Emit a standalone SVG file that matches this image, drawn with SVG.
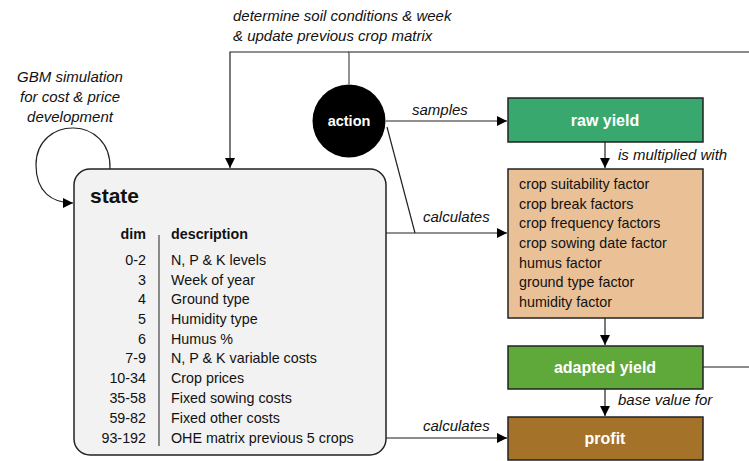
<svg xmlns="http://www.w3.org/2000/svg" width="749" height="461" viewBox="0 0 749 461">
<defs>
<marker id="ah" viewBox="0 0 10 10" refX="10" refY="5" markerWidth="10" markerHeight="10" markerUnits="userSpaceOnUse" orient="auto">
<path d="M0,0 L10,5 L0,10 z" fill="#000"/>
</marker>
<style>
text{font-family:"Liberation Sans",Arial,sans-serif;fill:#111}
.it{font-style:italic;font-size:15px}
.body{font-size:14.3px}
.wb{font-weight:bold;font-size:16px;fill:#fff;text-anchor:middle}
.ln{fill:none;stroke:#222;stroke-width:1.2}
.gl{fill:none;stroke:#666;stroke-width:1.4}
.bx{stroke:#222;stroke-width:1.5}
</style>
</defs>
<rect width="749" height="461" fill="#fff"/>
<g id="connectors">
<polyline class="gl" points="349,84 349,52 749,52"/>
<polyline class="ln" points="349,52 230,52 230,168" marker-end="url(#ah)"/>
<path class="ln" d="M110,169 C112,115 36,115 36,165 C36,192 52,203 73,203" marker-end="url(#ah)"/>
<line class="ln" x1="386" y1="121" x2="507" y2="121" marker-end="url(#ah)"/>
<line class="ln" x1="387" y1="127" x2="415" y2="233"/>
<line class="ln" x1="386" y1="233" x2="507" y2="233" marker-end="url(#ah)"/>
<line class="ln" x1="605" y1="142" x2="605" y2="168" marker-end="url(#ah)"/>
<line class="ln" x1="605" y1="318" x2="605" y2="345" marker-end="url(#ah)"/>
<line class="ln" x1="605" y1="389" x2="605" y2="416" marker-end="url(#ah)"/>
<line class="gl" x1="703" y1="367" x2="749" y2="367"/>
<line class="gl" x1="386" y1="438" x2="498" y2="438"/>
<line class="ln" x1="497" y1="438" x2="507" y2="438" marker-end="url(#ah)"/>
<text class="it" x="233" y="21">determine soil conditions &amp; week</text>
<text class="it" x="233" y="41">&amp; update previous crop matrix</text>
<text class="it" x="70" y="82" text-anchor="middle">GBM simulation</text>
<text class="it" x="70" y="102" text-anchor="middle">for cost &amp; price</text>
<text class="it" x="70" y="122" text-anchor="middle">development</text>
<text class="it" x="412" y="115">samples</text>
<text class="it" x="423" y="222">calculates</text>
<text class="it" x="423" y="431">calculates</text>
<text class="it" x="618" y="160">is multiplied with</text>
<text class="it" x="618" y="405">base value for</text>
</g>
<g id="state">
<rect x="74" y="169" width="312" height="286" rx="16" fill="#f2f2f2" stroke="#222" stroke-width="1.5"/>
<text x="90" y="203" style="font-weight:bold;font-size:21px">state</text>
<line x1="159" y1="235" x2="159" y2="446" stroke="#444" stroke-width="1.2"/>
<text x="146" y="239" class="body" style="font-weight:bold" text-anchor="end">dim</text>
<text x="171" y="239" class="body" style="font-weight:bold">description</text>
<g class="body" text-anchor="end">
<text x="146" y="265" class="body">0-2</text>
<text x="146" y="285" class="body">3</text>
<text x="146" y="304" class="body">4</text>
<text x="146" y="324" class="body">5</text>
<text x="146" y="344" class="body">6</text>
<text x="146" y="363" class="body">7-9</text>
<text x="146" y="383" class="body">10-34</text>
<text x="146" y="403" class="body">35-58</text>
<text x="146" y="423" class="body">59-82</text>
<text x="146" y="443" class="body">93-192</text>
</g>
<text x="171" y="265" class="body">N, P &amp; K levels</text>
<text x="171" y="285" class="body">Week of year</text>
<text x="171" y="304" class="body">Ground type</text>
<text x="171" y="324" class="body">Humidity type</text>
<text x="171" y="344" class="body">Humus %</text>
<text x="171" y="363" class="body">N, P &amp; K variable costs</text>
<text x="171" y="383" class="body">Crop prices</text>
<text x="171" y="403" class="body">Fixed sowing costs</text>
<text x="171" y="423" class="body">Fixed other costs</text>
<text x="171" y="443" class="body">OHE matrix previous 5 crops</text>
</g>
<g id="action">
<circle cx="349" cy="121" r="36.5" fill="#000"/>
<text x="349" y="126" class="wb" style="font-size:14.5px">action</text>
</g>
<g id="raw-yield">
<rect x="508" y="98" width="195" height="44" fill="#39a86e" class="bx"/>
<text x="605" y="126" class="wb">raw yield</text>
</g>
<g id="factors">
<rect x="508" y="169" width="195" height="149" fill="#eac197" class="bx"/>
<text x="519" y="189" class="body">crop suitability factor</text>
<text x="519" y="209" class="body">crop break factors</text>
<text x="519" y="228" class="body">crop frequency factors</text>
<text x="519" y="248" class="body">crop sowing date factor</text>
<text x="519" y="268" class="body">humus factor</text>
<text x="519" y="287" class="body">ground type factor</text>
<text x="519" y="307" class="body">humidity factor</text>
</g>
<g id="adapted-yield">
<rect x="508" y="346" width="195" height="43" fill="#5fa83a" class="bx"/>
<text x="605" y="373" class="wb">adapted yield</text>
</g>
<g id="profit">
<rect x="508" y="417" width="195" height="43" fill="#a5722a" class="bx"/>
<text x="605" y="444" class="wb">profit</text>
</g>
</svg>
